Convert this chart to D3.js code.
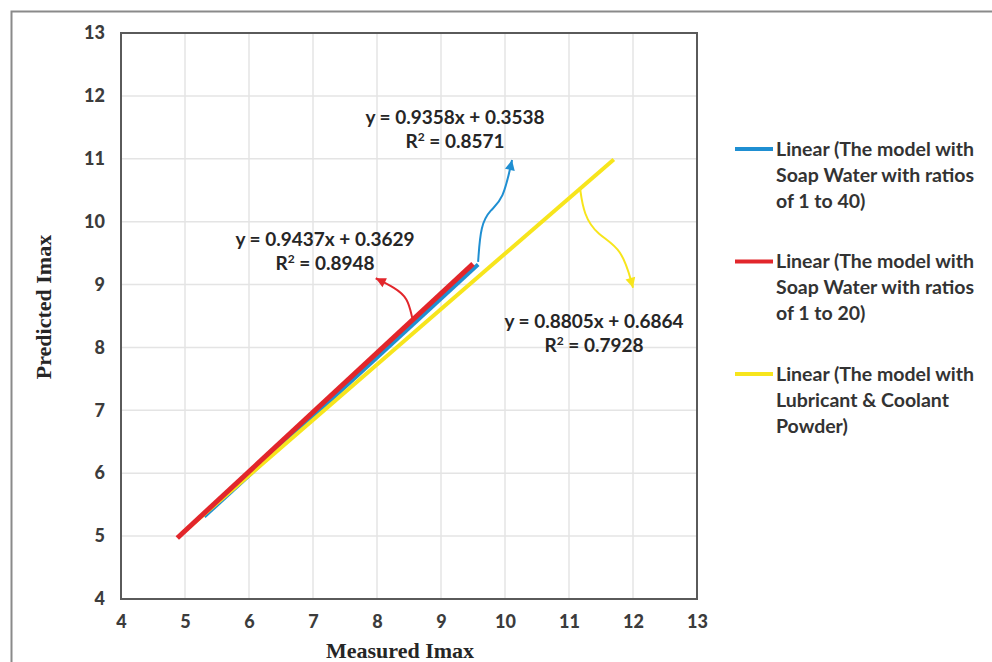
<!DOCTYPE html>
<html lang="en">
<head>
  <meta charset="UTF-8">
  <title>Predicted vs Measured Imax</title>
  <style>
    body { margin: 0; background: #fff; }
    svg { display: block; }
    .eq { font-family: Lato, sans-serif; font-weight: bold; font-size: 19px; fill: #262626; }
    .legend text { font-family: Lato, sans-serif; font-weight: bold; font-size: 19.5px; fill: #333; }
    .axis-title { font-family: "Liberation Serif", "DejaVu Serif", serif; font-weight: bold; font-size: 22px; fill: #262626; }
    .ticklbl { font-family: Lato, sans-serif; font-size: 18px; font-weight: 900; fill: #3c3c3c; }
  </style>
</head>
<body>
<div id="chart"></div>
<script src="https://cdn.jsdelivr.net/npm/d3@7"></script>
<script>
  // tick values
  const xTicks = [4, 5, 6, 7, 8, 9, 10, 11, 12, 13];
  const yTicks = [4, 5, 6, 7, 8, 9, 10, 11, 12, 13];

  // trendlines (endpoints)
  const seriesNames = ["Soap Water 1:40", "Soap Water 1:20", "Lubricant & Coolant Powder"];
  const lineStart = [[5.3, 5.31], [4.88, 4.97], [4.95, 5.04]];
  const lineEnd = [[9.58, 9.32], [9.5, 9.33], [11.7, 10.99]];
  const equations = ["y = 0.9358x + 0.3538", "y = 0.9437x + 0.3629", "y = 0.8805x + 0.6864"];
  const rSquared = ["0.8571", "0.8948", "0.7928"];
  const legendLabels = [
    ["Linear (The model with", "Soap Water with ratios", "of 1 to 40)"],
    ["Linear (The model with", "Soap Water with ratios", "of 1 to 20)"],
    ["Linear (The model with", "Lubricant & Coolant", "Powder)"]
  ];

  // curved callout arrows, in data units
  const arrowPaths = [
    [[9.58, 9.36], [9.62, 9.95], [9.77, 10.19], [9.97, 10.34], [10.11, 10.98]],
    [[8.55, 8.47], [8.48, 8.79], [8.28, 8.95], [7.98, 9.10]],
    [[11.17, 10.55], [11.23, 10.11], [11.44, 9.79], [11.83, 9.58], [12.0, 8.95]]
  ];

  const colors = ["#1f8fd2", "#e2262b", "#f7e51c"];
  const widths = [4, 5, 4];
  const drawOrder = [0, 2, 1];
  const eqAnchor = [[455, 124], [325, 246], [594, 328]];

  const W = 992, H = 662;
  const margin = {top: 33, left: 121};
  const plotW = 576, plotH = 566;

  const svg = d3.select("#chart").append("svg")
    .attr("width", W)
    .attr("height", H);

  // outer frame (top & left edges visible)
  svg.append("path")
    .attr("d", "M11.5,662 V11.5 H992")
    .attr("fill", "none")
    .attr("stroke", "#8a8a8a")
    .attr("stroke-width", 2);

  const g = svg.append("g")
    .attr("transform", "translate(" + margin.left + "," + margin.top + ")");

  const x = d3.scaleLinear().domain([4, 13]).range([0, plotW]);
  const y = d3.scaleLinear().domain([4, 13]).range([plotH, 0]);

  // grid
  g.append("g").selectAll("line").data(xTicks.slice(1, -1)).enter().append("line")
    .attr("x1", d => x(d)).attr("x2", d => x(d))
    .attr("y1", 0).attr("y2", plotH)
    .attr("stroke", "#e4e4e4").attr("stroke-width", 1.5);
  g.append("g").selectAll("line").data(yTicks.slice(1, -1)).enter().append("line")
    .attr("y1", d => y(d)).attr("y2", d => y(d))
    .attr("x1", 0).attr("x2", plotW)
    .attr("stroke", "#e4e4e4").attr("stroke-width", 1.5);

  // axes (labels only)
  const xAxis = g.append("g")
    .attr("transform", "translate(0," + plotH + ")")
    .call(d3.axisBottom(x).tickValues(xTicks).tickSize(0).tickPadding(16));
  const yAxis = g.append("g")
    .call(d3.axisLeft(y).tickValues(yTicks).tickSize(0).tickPadding(16));
  [xAxis, yAxis].forEach(ax => {
    ax.select(".domain").remove();
    ax.attr("font-size", null).attr("font-family", null);
    ax.selectAll("text").attr("class", "ticklbl").attr("fill", null);
  });

  // plot border
  g.append("rect")
    .attr("width", plotW).attr("height", plotH)
    .attr("fill", "none")
    .attr("stroke", "#5a5a5a")
    .attr("stroke-width", 2);

  // trendlines
  const line = d3.line().x(d => x(d[0])).y(d => y(d[1]));
  drawOrder.forEach(i => {
    g.append("path")
      .datum([lineStart[i], lineEnd[i]])
      .attr("fill", "none")
      .attr("stroke", colors[i])
      .attr("stroke-width", widths[i])
      .attr("d", line);
  });

  // callout arrows
  const curve = d3.line().x(d => x(d[0])).y(d => y(d[1])).curve(d3.curveBasis);
  arrowPaths.forEach((pts, i) => {
    const n = pts.length;
    const tip = pts[n - 1], prev = pts[n - 2];
    const tx = x(tip[0]), ty = y(tip[1]);
    const ang = Math.atan2(ty - y(prev[1]), tx - x(prev[0]));
    g.append("path")
      .datum(pts)
      .attr("fill", "none")
      .attr("stroke", colors[i])
      .attr("stroke-width", 2)
      .attr("d", curve);
    const L = 10, Wd = 5;
    const bx = tx - L * Math.cos(ang), by = ty - L * Math.sin(ang);
    const px = -Math.sin(ang) * Wd, py = Math.cos(ang) * Wd;
    g.append("path")
      .attr("d", "M" + tx + "," + ty + " L" + (bx + px) + "," + (by + py) + " L" + (bx - px) + "," + (by - py) + " Z")
      .attr("fill", colors[i]);
  });

  // equations
  equations.forEach((eq, i) => {
    svg.append("text")
      .attr("class", "eq")
      .attr("text-anchor", "middle")
      .attr("x", eqAnchor[i][0])
      .attr("y", eqAnchor[i][1])
      .text(eq);
    const r = svg.append("text")
      .attr("class", "eq")
      .attr("text-anchor", "middle")
      .attr("x", eqAnchor[i][0])
      .attr("y", eqAnchor[i][1] + 24);
    r.append("tspan").text("R");
    r.append("tspan").attr("dy", -7).attr("font-size", 12).text("2");
    r.append("tspan").attr("dy", 7).text(" = " + rSquared[i]);
  });

  // legend
  const legend = svg.append("g").attr("class", "legend")
    .attr("transform", "translate(735,149)");
  legendLabels.forEach((lines, i) => {
    const item = legend.append("g").attr("transform", "translate(0," + (i * 112.5) + ")");
    item.append("line")
      .attr("x1", 0).attr("x2", 38)
      .attr("y1", 0).attr("y2", 0)
      .attr("stroke", colors[i])
      .attr("stroke-width", 4);
    lines.forEach((s, j) => {
      item.append("text")
        .attr("x", 41)
        .attr("y", j * 26)
        .attr("dy", "0.35em")
        .text(s);
    });
  });

  // axis titles
  svg.append("text")
    .attr("class", "axis-title")
    .attr("text-anchor", "middle")
    .attr("transform", "translate(51,307) rotate(-90)")
    .text("Predicted Imax");
  svg.append("text")
    .attr("class", "axis-title")
    .attr("text-anchor", "middle")
    .attr("x", 400)
    .attr("y", 658)
    .text("Measured Imax");
</script>
</body>
</html>
